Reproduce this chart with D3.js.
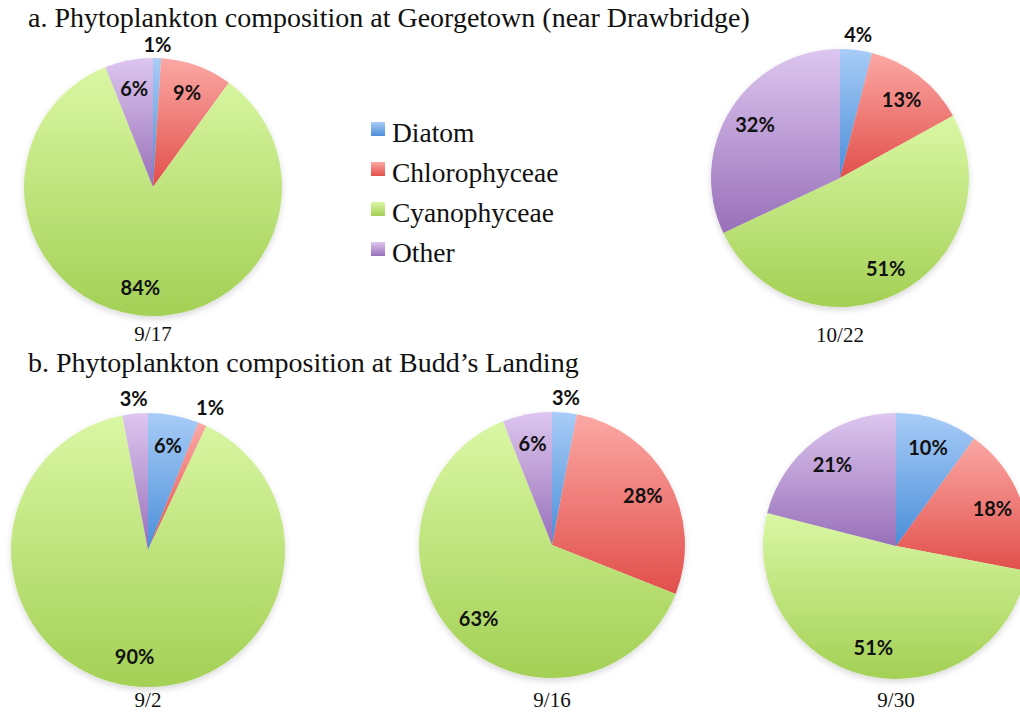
<!DOCTYPE html>
<html><head><meta charset="utf-8">
<script src="https://cdn.jsdelivr.net/npm/d3@7"></script>
<style>body{margin:0;background:#fff;overflow:hidden}</style>
</head><body>
<svg id="chart" width="1020" height="712"></svg>
<script>
const categories = ["Diatom", "Chlorophyceae", "Cyanophyceae", "Other"];
const dates = ["9/17", "10/22", "9/2", "9/16", "9/30"];
const diatom = [1, 4, 6, 3, 10];
const chlorophyceae = [9, 13, 1, 28, 18];
const cyanophyceae = [84, 51, 90, 63, 51];
const other = [6, 32, 3, 6, 21];
const titles = ["a. Phytoplankton composition at Georgetown (near Drawbridge)",
                "b. Phytoplankton composition at Budd\u2019s Landing"];

const colorTop = ["#a8ccf7", "#fba8a4", "#daf7a4", "#ddc6ef"];
const colorBot = ["#4a8ed9", "#e24f4b", "#a3d055", "#9870b9"];

const svg = d3.select("#chart");
const defs = svg.append("defs");
categories.forEach((c, i) => {
  const g = defs.append("linearGradient").attr("id", "g" + i)
    .attr("x1", 0).attr("y1", 0).attr("x2", 0).attr("y2", 1);
  g.append("stop").attr("offset", "0%").attr("stop-color", colorTop[i]);
  g.append("stop").attr("offset", "100%").attr("stop-color", colorBot[i]);
});
const f = defs.append("filter").attr("id", "sh").attr("x", "-20%").attr("y", "-20%").attr("width", "140%").attr("height", "140%");
f.append("feDropShadow").attr("dx", 0).attr("dy", 3).attr("stdDeviation", 3).attr("flood-color", "#000").attr("flood-opacity", 0.15);

const serif = "'Liberation Serif', 'Times New Roman', serif";
const sans = "Lato, 'Open Sans', sans-serif";

// titles
svg.append("text").attr("x", 28).attr("y", 27).text(titles[0])
  .attr("font-family", serif).attr("font-size", 28).attr("fill", "#111");
svg.append("text").attr("x", 28).attr("y", 372).text(titles[1])
  .attr("font-family", serif).attr("font-size", 28).attr("fill", "#111");

// pies layout
const layout = [
  {cx: 153, cy: 187, r: 129, ly: 341},
  {cx: 840, cy: 178, r: 129, ly: 342},
  {cx: 148, cy: 550, r: 137, ly: 707},
  {cx: 552, cy: 545, r: 133, ly: 707},
  {cx: 896, cy: 546, r: 133, ly: 707}
];

const pie = d3.pie().sort(null).value(d => d.v);

dates.forEach((dt, k) => {
  const L = layout[k];
  const vals = [diatom[k], chlorophyceae[k], cyanophyceae[k], other[k]].map((v, i) => ({v, i}));
  const arcs = pie(vals);
  const arc = d3.arc().innerRadius(0).outerRadius(L.r);
  const g = svg.append("g").attr("transform", `translate(${L.cx},${L.cy})`);
  g.append("g").attr("filter", "url(#sh)").selectAll("path").data(arcs).join("path")
    .attr("d", arc).attr("fill", d => `url(#g${d.data.i})`);
  arcs.forEach(d => {
    const a = (d.startAngle + d.endAngle) / 2;
    const s = Math.sin(a), c = -Math.cos(a);
    let dist;
    if (d.data.v < 5) {
      dist = L.r + 6 + Math.abs(s) * 15 + Math.abs(c) * 8;
    } else {
      dist = L.r * 0.78;
    }
    g.append("text").attr("x", s * dist).attr("y", c * dist)
      .attr("text-anchor", "middle").attr("dominant-baseline", "central")
      .attr("font-family", sans).attr("font-weight", "bold").attr("font-size", 20)
      .attr("fill", "#111").text(d.data.v + "%");
  });
  svg.append("text").attr("x", L.cx).attr("y", L.ly).attr("text-anchor", "middle")
    .attr("font-family", serif).attr("font-size", 21).attr("fill", "#111").text(dt);
});

// legend
const lg = svg.append("g");
categories.forEach((c, i) => {
  const y = 122 + i * 40;
  lg.append("rect").attr("x", 371).attr("y", y).attr("width", 14).attr("height", 14)
    .attr("fill", `url(#g${i})`);
  lg.append("text").attr("x", 392).attr("y", y + 20).text(c)
    .attr("font-family", serif).attr("font-size", 27.5).attr("fill", "#111");
});
</script>
</body></html>
